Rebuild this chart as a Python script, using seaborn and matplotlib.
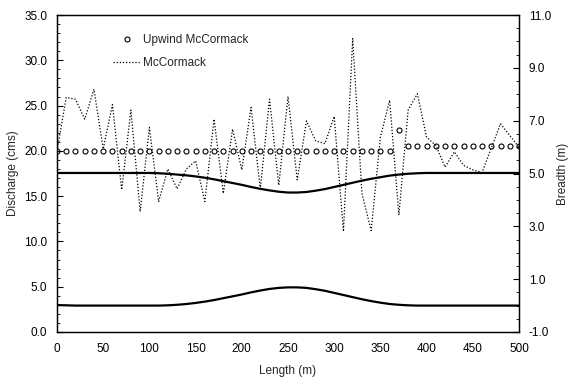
import numpy as np
import pandas as pd
import matplotlib
matplotlib.use("Agg")
import matplotlib.pyplot as plt
from matplotlib.ticker import MultipleLocator, FormatStrFormatter
import seaborn as sns

# ---------------- data ----------------
length = list(range(0, 501, 10))  # m

upwind_mccormack = [20.0] * 37 + [22.3] + [20.5] * 13

mccormack = [20.0, 25.9, 25.7, 23.5, 26.8, 20.2, 25.1, 15.7, 24.5, 13.3,
             22.6, 14.4, 18.0, 15.8, 18.0, 18.9, 14.4, 23.5, 15.3, 22.4,
             17.9, 24.8, 15.8, 25.7, 16.2, 26.0, 16.8, 23.3, 21.1, 20.8,
             23.8, 11.1, 32.4, 15.3, 11.2, 21.5, 25.6, 12.9, 24.5, 26.3,
             21.5, 20.6, 18.2, 19.9, 18.4, 17.9, 17.6, 20.3, 23.0, 21.7,
             20.4]

# channel banks on the breadth axis (m)
lower_bank = [0.02, 0.01, 0.0, 0.0, 0.0, 0.0, 0.0, 0.0, 0.0, 0.0,
              0.0, 0.0, 0.01, 0.03, 0.06, 0.10, 0.15, 0.21, 0.28, 0.35,
              0.42, 0.50, 0.57, 0.63, 0.67, 0.69, 0.69, 0.67, 0.62, 0.56,
              0.48, 0.40, 0.32, 0.24, 0.17, 0.11, 0.06, 0.03, 0.01, 0.0,
              0.0, 0.0, 0.0, 0.0, 0.0, 0.0, 0.0, 0.0, 0.0, 0.0,
              0.0]
upper_bank = [5.02, 5.02, 5.02, 5.02, 5.02, 5.02, 5.02, 5.02, 5.02, 5.02,
              5.02, 5.01, 4.99, 4.96, 4.93, 4.89, 4.84, 4.78, 4.71, 4.64,
              4.57, 4.49, 4.42, 4.36, 4.31, 4.28, 4.28, 4.30, 4.35, 4.41,
              4.49, 4.57, 4.65, 4.73, 4.80, 4.86, 4.92, 4.96, 4.99, 5.01,
              5.02, 5.02, 5.02, 5.02, 5.02, 5.02, 5.02, 5.02, 5.02, 5.02,
              5.02]

left_ticks = [0, 5, 10, 15, 20, 25, 30, 35]
right_ticks = [-1, 1, 3, 5, 7, 9, 11]
x_ticks = [0, 50, 100, 150, 200, 250, 300, 350, 400, 450, 500]

df = pd.DataFrame({"Length": length, "Upwind": upwind_mccormack,
                   "McCormack": mccormack, "Lower": lower_bank,
                   "Upper": upper_bank})

# ---------------- style ----------------
sns.set_style("white")
plt.rcParams["font.family"] = ["Liberation Sans", "DejaVu Sans"]
plt.rcParams["font.size"] = 8.5

fig = plt.figure(figsize=(5.69, 3.78), dpi=100)
ax = fig.add_axes([57 / 569, 1 - 332 / 378, 462 / 569, 317 / 378])
ax2 = ax.twinx()

# breadth (banks) on the right axis
sns.lineplot(data=df, x="Length", y="Upper", ax=ax2, color="black",
             linewidth=1.6, legend=False)
sns.lineplot(data=df, x="Length", y="Lower", ax=ax2, color="black",
             linewidth=1.6, legend=False)

# discharge on the left axis
sns.lineplot(data=df, x="Length", y="Upwind", ax=ax, color="black",
             linestyle="None", marker="o", markersize=3.6,
             markerfacecolor="none", markeredgecolor="black",
             markeredgewidth=0.8, label="Upwind McCormack")
sns.lineplot(data=df, x="Length", y="McCormack", ax=ax, color="black",
             linestyle=(0, (1, 1.5)), linewidth=0.9, label="McCormack")

ax.set_zorder(ax2.get_zorder() + 1)
ax.patch.set_visible(False)

ax.set_xlim(0, 500)
ax.set_ylim(0, 35)
ax2.set_ylim(-1, 11)

ax.set_xticks(x_ticks)
ax.set_yticks(left_ticks)
ax2.set_yticks(right_ticks)
ax.xaxis.set_minor_locator(MultipleLocator(10))
ax.yaxis.set_minor_locator(MultipleLocator(1))
ax2.yaxis.set_minor_locator(MultipleLocator(0.5))
ax.yaxis.set_major_formatter(FormatStrFormatter("%.1f"))
ax2.yaxis.set_major_formatter(FormatStrFormatter("%.1f"))

ax.tick_params(axis="both", which="major", direction="in", length=4,
               width=0.8, color="black", labelsize=8.5, labelcolor="black")
ax.tick_params(axis="both", which="minor", direction="in", length=2.2,
               width=0.6, color="black")
ax.tick_params(axis="y", which="major", pad=7)
ax.tick_params(axis="x", which="major", pad=8)
ax.tick_params(top=False, which="both")
ax2.tick_params(axis="y", which="major", direction="in", length=4,
                width=0.8, color="black", labelsize=8.5, pad=7,
                labelcolor="black")
ax2.tick_params(axis="y", which="minor", direction="in", length=2.2,
                width=0.6, color="black")

for a in (ax, ax2):
    for s in a.spines.values():
        s.set_visible(True)
        s.set_color("black")
        s.set_linewidth(0.9)

ax.set_xlabel("Length (m)", fontsize=8.5, labelpad=7)
ax.set_ylabel("Discharge (cms)", fontsize=8.5, labelpad=4)
ax2.set_ylabel("Breadth (m)", fontsize=8.5, labelpad=4)

handles, labels = ax.get_legend_handles_labels()
leg = ax.legend(handles, labels, loc="upper left",
                bbox_to_anchor=(113 / 569, 1 - 34 / 378),
                bbox_transform=fig.transFigure, frameon=False,
                borderpad=0, borderaxespad=0, handlelength=2.3,
                handletextpad=0.25, labelspacing=0.95, fontsize=8.5)

fig.savefig("out.png", dpi=100, facecolor="white")
